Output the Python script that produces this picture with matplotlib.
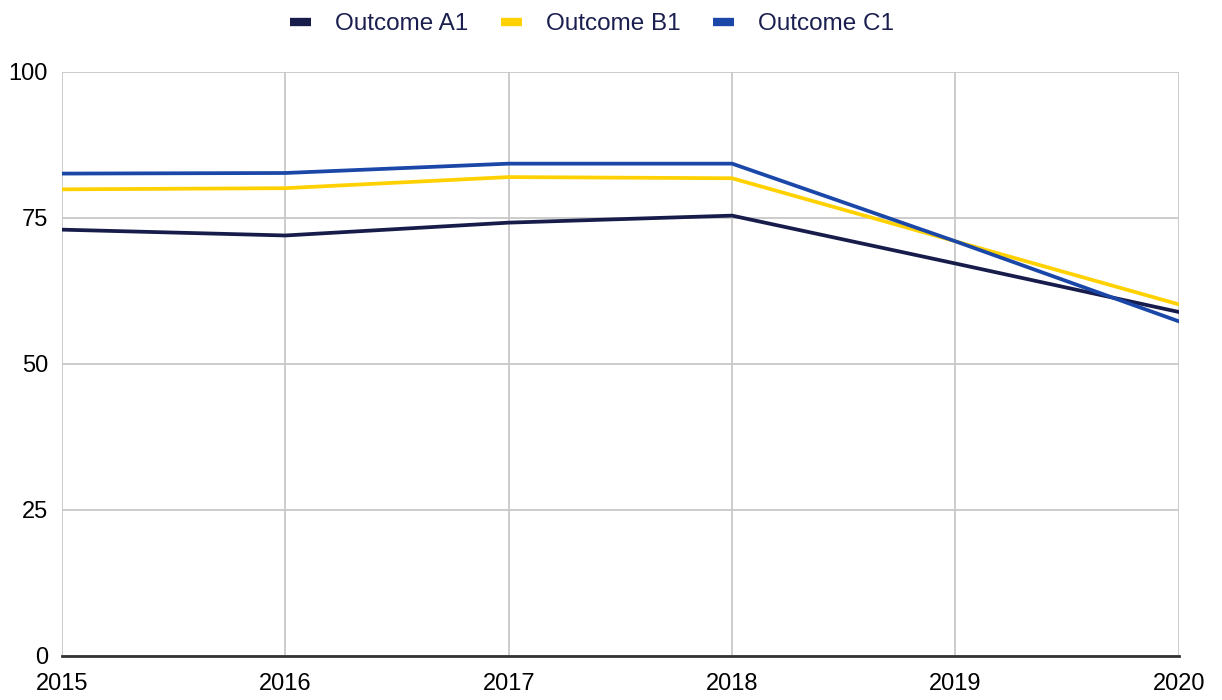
import matplotlib
matplotlib.use("Agg")
import matplotlib.pyplot as plt
from matplotlib.lines import Line2D

plt.rcParams['font.family'] = ['Liberation Sans', 'DejaVu Sans']

years = [2015, 2016, 2017, 2018, 2019, 2020]
outcome_a1 = [73.0, 72.0, 74.2, 75.4, 67.2, 58.9]
outcome_b1 = [79.9, 80.1, 82.0, 81.8, 71.0, 60.2]
outcome_c1 = [82.6, 82.7, 84.3, 84.3, 71.0, 57.3]

labels = ["Outcome A1", "Outcome B1", "Outcome C1"]
colors = ["#171c4b", "#ffd100", "#1a47a8"]

fig = plt.figure(figsize=(12.22, 7), dpi=100)
ax = fig.add_axes([0.0507, 0.0629, 0.914, 0.8343])

for vals, col, lab in zip([outcome_a1, outcome_b1, outcome_c1], colors, labels):
    ax.plot(years, vals, color=col, lw=2.7, label=lab, solid_joinstyle='miter', zorder=3)

ax.set_xlim(2015, 2020)
ax.set_ylim(0, 100)
ax.set_yticks([0, 25, 50, 75, 100])
ax.set_xticks(years)
ax.grid(True, color="#c8c8c8", lw=1.3, zorder=0)
ax.tick_params(length=0, labelsize=17, colors="black")
ax.tick_params(axis='x', pad=12)
ax.tick_params(axis='y', pad=10)
for s in ["top", "right", "left"]:
    ax.spines[s].set_visible(False)
ax.spines["bottom"].set_color("#333333")
ax.spines["bottom"].set_linewidth(2)
ax.spines["bottom"].set_zorder(4)

handles = [Line2D([0], [0], color=c, lw=6, solid_capstyle='butt') for c in colors]
fig.legend(handles, labels, loc="upper center", bbox_to_anchor=(0.4845, 1.012), ncol=3,
           frameon=False, fontsize=17.5, handlelength=0.85, handletextpad=1.0,
           columnspacing=1.35, labelcolor="#1a1f4f")

fig.savefig("out.png", dpi=100)
